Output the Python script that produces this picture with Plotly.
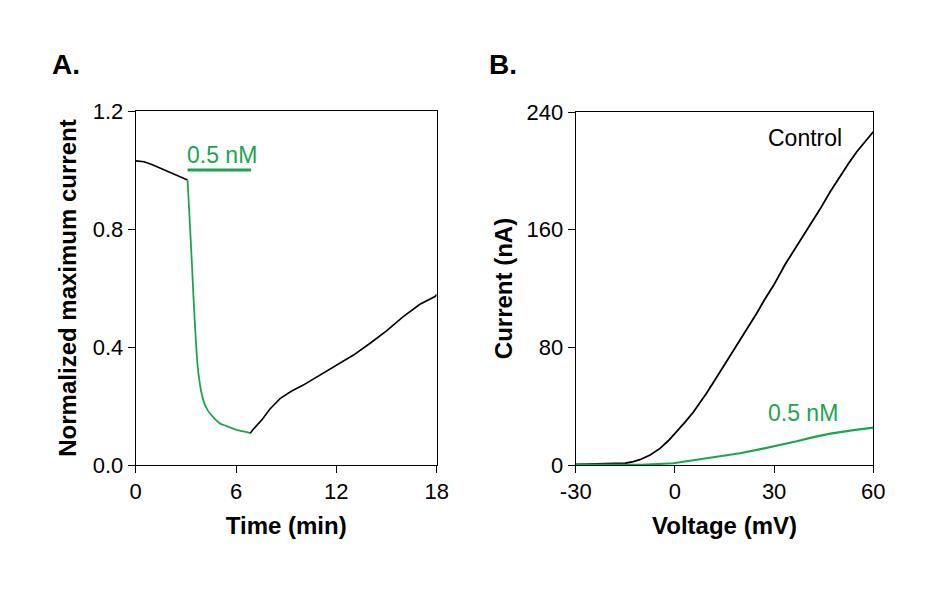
import plotly.graph_objects as go

# Panel A: normalized maximum current over time
time_before = [0.0, 0.5, 1.0, 1.5, 2.0, 2.5, 2.95, 3.1]
norm_before = [1.031, 1.028, 1.018, 1.005, 0.993, 0.981, 0.968, 0.966]

time_drug = [3.1, 3.2, 3.35, 3.55, 3.75, 4.04, 4.3, 4.64, 5.04, 5.44, 6.04, 6.5, 6.85]
norm_drug = [0.966, 0.86, 0.695, 0.469, 0.311, 0.22, 0.186, 0.162, 0.141, 0.132, 0.119, 0.113, 0.108]

time_wash = [6.85, 7.03, 7.54, 8.03, 8.63, 9.3, 10.02, 11.0, 12.02, 13.0, 14.0, 15.0, 16.0, 17.0, 17.9, 18.0]
norm_wash = [0.108, 0.121, 0.153, 0.190, 0.225, 0.250, 0.271, 0.305, 0.339, 0.372, 0.412, 0.455, 0.503, 0.545, 0.571, 0.578]

drug_period = [3.1, 6.9]
drug_level = 1.0

# Panel B: current vs voltage
volt_control = [-30, -25, -20, -15, -12.6, -10.6, -7.5, -4.5, -2, 0.5, 3, 5.6, 7.5, 9.6, 12, 14.6, 17,
                19.7, 22, 24.7, 27, 29.8, 33.5, 37.8, 41, 43.9, 47, 49.9, 52.5, 55, 57.5, 60]
curr_control = [0.5, 0.7, 0.8, 1.2, 2.3, 3.6, 6.8, 11.3, 16.5, 22.5, 29, 36, 42, 49, 57.5, 66.8, 75.5,
                85, 93, 103, 112, 122, 137, 152, 163, 174, 186, 196.5, 205, 213, 219.5, 226.6]

volt_drug = [-30, -20, -10, -0.5, 4.5, 9.6, 14.5, 19.7, 25.5, 31.8, 36.5, 41.9, 47, 53.5, 60]
curr_drug = [0.3, 0.2, 0.2, 1.2, 2.8, 4.5, 6.2, 8, 10.6, 13.6, 16, 19.0, 21.3, 23.5, 25.4]

volt_ticks = [-30, 0, 30, 60]
volt_labels = ["-30", "0", "30", "60"]

GREEN = "#1aa64f"
FONT = "Arial, Liberation Sans, sans-serif"

fig = go.Figure()
fig.add_trace(go.Scatter(x=time_before, y=norm_before, mode="lines",
                         line=dict(color="black", width=1.6), xaxis="x", yaxis="y"))
fig.add_trace(go.Scatter(x=time_drug, y=norm_drug, mode="lines",
                         line=dict(color=GREEN, width=1.8, shape="spline"), xaxis="x", yaxis="y"))
fig.add_trace(go.Scatter(x=time_wash, y=norm_wash, mode="lines",
                         line=dict(color="black", width=1.6), xaxis="x", yaxis="y"))
fig.add_trace(go.Scatter(x=volt_control, y=curr_control, mode="lines",
                         line=dict(color="black", width=1.8), xaxis="x2", yaxis="y2"))
fig.add_trace(go.Scatter(x=volt_drug, y=curr_drug, mode="lines",
                         line=dict(color=GREEN, width=2.2), xaxis="x2", yaxis="y2"))

axis_common = dict(showline=True, linecolor="black", linewidth=1, mirror=True,
                   ticks="outside", ticklen=7, tickwidth=1, tickcolor="black",
                   showgrid=False, zeroline=False, automargin=False,
                   tickfont=dict(family=FONT, size=22, color="black"))

# the page adds an 8px body margin, so domains are measured 8px up/left
fig.update_layout(
    width=937, height=591,
    margin=dict(l=0, r=0, t=0, b=0),
    paper_bgcolor="white", plot_bgcolor="white",
    showlegend=False,
    font=dict(family=FONT, color="black"),
    xaxis=dict(domain=[0.1363, 0.4575], range=[0, 18], tickvals=[0, 6, 12, 18],
               title=dict(text="<b>Time (min)</b>", font=dict(size=24), standoff=13),
               anchor="y", **axis_common),
    yaxis=dict(domain=[0.2267, 0.8257], range=[0, 1.2], tickvals=[0, 0.4, 0.8, 1.2],
               tickformat=".1f",
               title=dict(text="<b>Normalized maximum current</b>", font=dict(size=24), standoff=9),
               anchor="x", **axis_common),
    xaxis2=dict(domain=[0.6059, 0.9235], range=[-30, 60], tickvals=volt_ticks, ticktext=volt_labels,
                title=dict(text="<b>Voltage (mV)</b>", font=dict(size=24), standoff=13),
                anchor="y2", **axis_common),
    yaxis2=dict(domain=[0.2267, 0.8240], range=[0, 240], tickvals=[0, 80, 160, 240],
                title=dict(text="<b>Current (nA)</b>", font=dict(size=24), standoff=7),
                anchor="x2", **axis_common),
)

fig.add_shape(type="line", xref="x", yref="y",
              x0=drug_period[0], x1=drug_period[1], y0=drug_level, y1=drug_level,
              line=dict(color=GREEN, width=3))

fig.add_annotation(x=drug_period[0], y=drug_level, xref="x", yref="y",
                   text="0.5 nM", showarrow=False, xanchor="left", yanchor="bottom",
                   xshift=-3, yshift=0, font=dict(size=23, color=GREEN))
fig.add_annotation(x=39.3, y=222, xref="x2", yref="y2",
                   text="Control", showarrow=False, xanchor="center", yanchor="middle",
                   font=dict(size=23, color="black"))
fig.add_annotation(x=38.7, y=35.4, xref="x2", yref="y2",
                   text="0.5 nM", showarrow=False, xanchor="center", yanchor="middle",
                   font=dict(size=23, color=GREEN))

fig.add_annotation(x=42 / 937, y=1 - 57 / 591, xref="paper", yref="paper",
                   text="<b>A.</b>", showarrow=False, xanchor="left", yanchor="middle",
                   font=dict(size=28))
fig.add_annotation(x=479 / 937, y=1 - 57 / 591, xref="paper", yref="paper",
                   text="<b>B.</b>", showarrow=False, xanchor="left", yanchor="middle",
                   font=dict(size=28))

fig.write_html("out.html")
